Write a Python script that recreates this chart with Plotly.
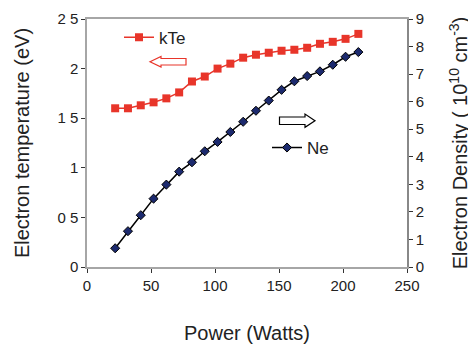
import plotly.graph_objects as go

power = [22, 32, 42, 52, 62, 72, 82, 92, 102, 112, 122, 132, 142, 152, 162, 172, 182, 192, 202, 212]
kte = [1.60, 1.60, 1.63, 1.66, 1.70, 1.76, 1.87, 1.92, 2.00, 2.05, 2.11, 2.14, 2.16, 2.18, 2.19, 2.21, 2.25, 2.27, 2.30, 2.35]
ne = [0.68, 1.30, 1.88, 2.48, 2.99, 3.46, 3.80, 4.20, 4.54, 4.90, 5.27, 5.67, 6.04, 6.43, 6.74, 6.93, 7.10, 7.34, 7.63, 7.80]

x_ticks = [0, 50, 100, 150, 200, 250]
y1_ticks = [0, 0.5, 1, 1.5, 2, 2.5]
y1_labels = ["0", "0 5", "1", "1 5", "2", "2 5"]
y2_ticks = [0, 1, 2, 3, 4, 5, 6, 7, 8, 9]

RED = "#e8352a"
NAVY = "#1c2a6e"
AX = "#a6a6a6"
FONT = "Liberation Sans, Arial, sans-serif"

fig = go.Figure()
fig.add_trace(go.Scatter(
    x=power, y=kte, name="kTe", mode="lines+markers", showlegend=True,
    line=dict(color=RED, width=1.5),
    marker=dict(symbol="square", size=8, color=RED),
    legend="legend", yaxis="y"))
fig.add_trace(go.Scatter(
    x=power, y=ne, name="Ne", mode="lines+markers", showlegend=True,
    line=dict(color="black", width=1.5),
    marker=dict(symbol="diamond", size=7, color=NAVY, line=dict(color="black", width=1)),
    legend="legend2", yaxis="y2"))

# hollow block arrows, positioned in plot-area pixel terms and converted to data units
def px2x(p):
    return (p - 87) / 320 * 250

def py2y(p):
    return 2.5 - (p - 19) / 248 * 2.5

def arrow_path(pts):
    return "M " + " L ".join(f"{px2x(a):.3f},{py2y(b):.4f}" for a, b in pts) + " Z"

left_arrow = [(150, 61.7), (161, 56.5), (161, 58.5), (186, 58.5), (186, 65), (161, 65), (161, 67)]
right_arrow = [(315, 120.7), (305, 114), (305, 117), (279.5, 117), (279.5, 124.5), (305, 124.5), (305, 127.3)]

fig.add_shape(type="path", path=arrow_path(left_arrow), xref="x", yref="y",
              line=dict(color=RED, width=1.2), fillcolor="white")
fig.add_shape(type="path", path=arrow_path(right_arrow), xref="x", yref="y",
              line=dict(color="black", width=1.2), fillcolor="white")

# page body has an 8px margin, so the figure is drawn 8px smaller and offset accordingly
fig.update_layout(
    width=468, height=336,
    margin=dict(l=79, r=69, t=11, b=77, autoexpand=False),
    paper_bgcolor="white", plot_bgcolor="white",
    font=dict(family=FONT, size=15, color="#222"),
    showlegend=True,
    xaxis=dict(range=[0, 250], tickvals=x_ticks, showgrid=False, zeroline=False,
               showline=True, linecolor=AX, linewidth=1.5, mirror=True, automargin=False,
               ticks="outside", ticklen=4, tickcolor="#333",
               title=dict(text="Power (Watts)", font=dict(size=20), standoff=34)),
    yaxis=dict(range=[0, 2.5], tickvals=y1_ticks, ticktext=y1_labels, showgrid=False,
               zeroline=False, showline=True, linecolor=AX, linewidth=1.5, automargin=False,
               ticks="outside", ticklen=4, tickcolor="#333",
               title=dict(text="Electron temperature (eV)", font=dict(size=20), standoff=22)),
    yaxis2=dict(range=[0, 9], tickvals=y2_ticks, overlaying="y", side="right",
                showgrid=False, zeroline=False, showline=True, linecolor="#888", linewidth=1.5,
                automargin=False, ticks="outside", ticklen=4, tickcolor="#333",
                title=dict(text="Electron Density ( 10<sup>10</sup> cm<sup>-3</sup>)",
                           font=dict(size=20), standoff=30)),
    legend=dict(x=0.1, y=0.925, xanchor="left", yanchor="middle", bgcolor="rgba(0,0,0,0)",
                font=dict(size=17), itemwidth=30, tracegroupgap=0),
    legend2=dict(x=0.5625, y=0.48, xanchor="left", yanchor="middle", bgcolor="rgba(0,0,0,0)",
                 font=dict(size=17), itemwidth=30, tracegroupgap=0),
)

fig.write_html("out.html")
